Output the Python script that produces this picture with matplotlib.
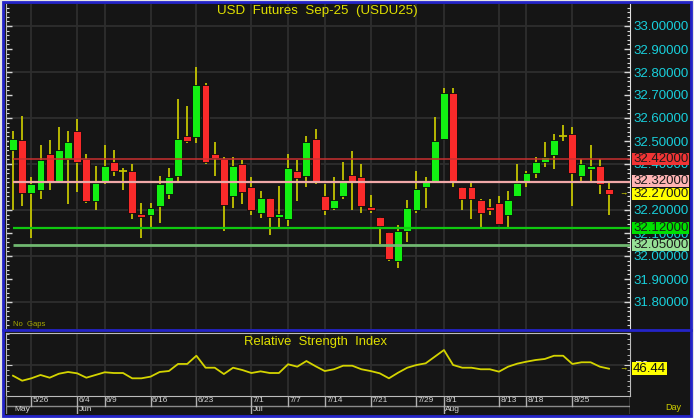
import matplotlib
matplotlib.use('Agg')
import matplotlib.pyplot as plt
from matplotlib.patches import Rectangle
from matplotlib.lines import Line2D
from matplotlib.ticker import MultipleLocator, FixedLocator
import numpy as np

plt.rcParams['font.family'] = ['Liberation Sans', 'DejaVu Sans']

# ---------------- data ----------------
opens = [32.459, 32.503, 32.273, 32.288, 32.442, 32.328, 32.422, 32.542, 32.422, 32.241,
         32.328, 32.409, 32.370, 32.370, 32.183, 32.180, 32.219, 32.271, 32.348, 32.522,
         32.519, 32.742, 32.442, 32.420, 32.259, 32.402, 32.302, 32.187, 32.251, 32.168,
         32.159, 32.370, 32.348, 32.510, 32.262, 32.207, 32.259, 32.351, 32.342, 32.210,
         32.171, 32.103, 31.980, 32.109, 32.200, 32.300, 32.328, 32.507, 32.710, 32.302,
         32.302, 32.242, 32.210, 32.229, 32.180, 32.259, 32.328, 32.359, 32.409, 32.439,
         32.520, 32.530, 32.348, 32.380, 32.391, 32.290]
highs = [32.544, 32.610, 32.342, 32.481, 32.503, 32.561, 32.544, 32.594, 32.442, 32.391,
         32.483, 32.462, 32.383, 32.402, 32.231, 32.231, 32.349, 32.383, 32.683, 32.651,
         32.822, 32.751, 32.494, 32.429, 32.429, 32.417, 32.344, 32.283, 32.251, 32.303,
         32.442, 32.419, 32.520, 32.551, 32.313, 32.342, 32.410, 32.455, 32.402, 32.264,
         32.171, 32.103, 32.135, 32.242, 32.370, 32.344, 32.603, 32.731, 32.731, 32.302,
         32.322, 32.249, 32.249, 32.262, 32.283, 32.402, 32.370, 32.430, 32.496, 32.530,
         32.570, 32.562, 32.422, 32.483, 32.422, 32.322]
lows = [32.200, 32.219, 32.080, 32.246, 32.288, 32.325, 32.228, 32.280, 32.229, 32.200,
        32.312, 32.348, 32.287, 32.159, 32.080, 32.123, 32.142, 32.248, 32.322, 32.490,
        32.493, 32.399, 32.346, 32.107, 32.209, 32.228, 32.180, 32.167, 32.093, 32.123,
        32.132, 32.239, 32.302, 32.312, 32.180, 32.199, 32.249, 32.200, 32.188, 32.188,
        32.052, 31.980, 31.949, 32.061, 32.188, 32.207, 32.320, 32.507, 32.300, 32.200,
        32.159, 32.123, 32.180, 32.141, 32.123, 32.259, 32.300, 32.339, 32.387, 32.380,
        32.499, 32.219, 32.322, 32.328, 32.270, 32.180]
closes = [32.509, 32.273, 32.313, 32.419, 32.323, 32.461, 32.494, 32.407, 32.241, 32.317,
          32.391, 32.368, 32.370, 32.188, 32.168, 32.210, 32.313, 32.342, 32.510, 32.499,
          32.742, 32.409, 32.428, 32.220, 32.390, 32.280, 32.200, 32.251, 32.168, 32.183,
          32.381, 32.341, 32.494, 32.322, 32.200, 32.242, 32.330, 32.328, 32.219, 32.200,
          32.132, 31.987, 32.109, 32.210, 32.290, 32.320, 32.501, 32.710, 32.322, 32.248,
          32.248, 32.188, 32.200, 32.141, 32.242, 32.317, 32.361, 32.409, 32.429, 32.503,
          32.520, 32.359, 32.402, 32.391, 32.312, 32.270]
rsi = [39.7, 34.9, 37.2, 40.4, 37.8, 41.6, 43.3, 42.0, 37.8, 40.4,
       43.0, 42.3, 42.3, 37.2, 37.2, 38.8, 43.3, 44.2, 51.0, 51.0,
       58.9, 47.4, 47.4, 41.3, 47.4, 45.2, 42.3, 43.9, 42.3, 42.3,
       50.7, 48.4, 53.8, 48.8, 44.2, 45.9, 49.3, 49.3, 45.9, 44.2,
       42.0, 37.2, 42.6, 47.4, 50.0, 51.6, 58.0, 64.4, 50.0, 47.4,
       47.4, 45.9, 45.9, 43.6, 48.4, 51.3, 53.2, 54.8, 55.8, 58.9,
       58.9, 51.0, 52.6, 52.6, 48.4, 46.44]

day_labels = ['5/26', '6/4', '6/9', '6/16', '6/23', '7/1', '7/7', '7/14',
              '7/21', '7/29', '8/1', '8/13', '8/18', '8/25']
day_index = [2, 7, 10, 15, 20, 26, 30, 34, 39, 44, 47, 53, 56, 61]
month_labels = ['May', 'Jun', 'Jul', 'Aug']
month_index = [0, 7, 26, 47]

price_ticks = [31.8, 31.9, 32.0, 32.1, 32.2, 32.4, 32.5, 32.6, 32.7, 32.8, 32.9, 33.0]
level_values = [32.42, 32.32, 32.27, 32.12, 32.05]
level_colors = ['#f03434', '#ffb4b4', '#ffff00', '#00e000', '#96e096']
line_levels = [32.42, 32.32, 32.12, 32.05]
line_colors = ['#c83030', '#f0a8a8', '#10c810', '#70b870']
line_widths = [1.1, 1.6, 1.6, 2.0]
rsi_last = 46.44

title = 'USD  Futures  Sep-25  (USDU25)'

# ---------------- layout ----------------
W, H = 694, 418
fig = plt.figure(figsize=(W / 100, H / 100), dpi=100, facecolor='#e4e4e4')

def fx(x):
    return x / W

def fy(y):
    return 1 - y / H

BG = '#151515'
BLUE = '#2424c8'
GRID = '#2e2e2e'
FRAME = '#bcbcbc'
WICK = '#c4c400'
YEL = '#e0e000'

fig.patches.append(Rectangle((fx(3), fy(416)), (691 - 3) / W, (416 - 2) / H,
                             transform=fig.transFigure, facecolor=BG,
                             edgecolor=BLUE, lw=2, zorder=-10))

spacing = 596 / 65.0
x0 = 13.0

def ix(xpix):
    return (xpix - x0) / spacing

def price_at(ypix):
    return 33.0 - (ypix - 26) / 230.0

XL = (ix(6), ix(630))

# ---------------- main panel ----------------
ax = fig.add_axes([fx(6), fy(329), 624 / W, (329 - 4) / H])
ax.set_facecolor('none')
ax.set_xlim(*XL)
ax.set_ylim(price_at(329), price_at(4))
for s in ['top', 'bottom']:
    ax.spines[s].set_visible(False)
ax.spines['left'].set_color(FRAME)
ax.spines['right'].set_color('#e0e0e0')

for xi in day_index:
    ax.axvline(xi, color=GRID, lw=1.3, zorder=0)
for yv in np.arange(31.8, 33.01, 0.2):
    ax.axhline(yv, color=GRID, lw=1.3, zorder=0)

n = len(closes)
xs = np.arange(n)
bw = 0.86
ax.vlines(xs, lows, highs, color=WICK, lw=1.3, zorder=2)
for i in range(n):
    o, c = opens[i], closes[i]
    if abs(c - o) < 1e-9:
        ax.hlines(o, i - bw / 2, i + bw / 2, color=WICK, lw=1.3, zorder=3)
        continue
    up = c > o
    lo, hi = min(o, c), max(o, c)
    hgt = max(hi - lo, 0.011)
    ax.add_patch(Rectangle((i - bw / 2, lo), bw, hgt,
                           facecolor='#12f012' if up else '#fa2a2a',
                           edgecolor='#0a0a0a', lw=0.6, zorder=3))

for lv, lc, lw in zip(line_levels, line_colors, line_widths):
    ax.hlines(lv, 0, XL[1], color=lc, lw=lw, zorder=4)

ax.yaxis.set_major_locator(FixedLocator(price_ticks))
ax.yaxis.set_minor_locator(MultipleLocator(0.02))
ax.yaxis.set_major_formatter(plt.FuncFormatter(lambda v, p: f'{v:.5f}'))
ax.tick_params(axis='y', which='both', left=True, right=True, direction='in',
               labelleft=False, labelright=True, colors='#d8d8d8')
ax.tick_params(axis='y', which='major', length=4.5, width=1, pad=2.5,
               labelcolor='#18d0dc', labelsize=9.5)
ax.tick_params(axis='y', which='minor', length=2.5, width=0.8)
ax.tick_params(axis='x', which='both', bottom=False, labelbottom=False)

# price level boxes
ideal = [26 + (33.0 - v) * 230 for v in level_values]
pos = list(ideal)
for k in range(len(pos) - 1, 0, -1):
    if pos[k] - pos[k - 1] < 13:
        pos[k - 1] = pos[k] - 13
for v, yp, col in zip(level_values, pos, level_colors):
    fig.patches.append(Rectangle((fx(632), fy(yp + 6)), 57 / W, 12 / H,
                                 transform=fig.transFigure, facecolor=col,
                                 edgecolor='none', zorder=5))
    fig.text(fx(633), fy(yp), f'{v:.5f}', color='#1a1a1a', fontsize=9.5,
             va='center', ha='left', zorder=6)

ylast = 26 + (33.0 - closes[-1]) * 230
fig.text(fx(619.5), fy(ylast), '→', color=YEL, fontsize=6, va='center',
         ha='left', fontweight='bold', zorder=6)

fig.text(fx(317), fy(11), title, color=YEL, fontsize=9.6, ha='center',
         va='center')
fig.text(fx(13), fy(324), 'No  Gaps', color='#a8a800', fontsize=5.5,
         ha='left', va='center')

# ---------------- RSI panel ----------------
rlo = 50 - (396 - 365) / 1.04
rhi = 50 + (365 - 333) / 1.04
ax2 = fig.add_axes([fx(6), fy(396), 624 / W, (396 - 333) / H])
ax2.set_facecolor('none')
ax2.set_xlim(*XL)
ax2.set_ylim(rlo, rhi)
for s in ax2.spines.values():
    s.set_color(FRAME)
for xi in day_index:
    ax2.axvline(xi, color=GRID, lw=1.3, zorder=0)
ax2.axhline(50, color=GRID, lw=1.3, zorder=0)
ax2.plot(xs, rsi, color='#d4d400', lw=1.3, zorder=3)
ax2.yaxis.set_major_locator(FixedLocator([50]))
ax2.yaxis.set_minor_locator(MultipleLocator(5))
ax2.yaxis.set_major_formatter(plt.FuncFormatter(lambda v, p: f'{v:.0f}'))
ax2.tick_params(axis='y', which='both', left=True, right=True, direction='in',
                labelleft=False, labelright=True, colors='#d0d0d0')
ax2.tick_params(axis='y', which='major', length=4, pad=3, labelsize=9.5,
                labelcolor='#e8e8e8')
ax2.tick_params(axis='y', which='minor', length=2.5)
ax2.tick_params(axis='x', which='both', bottom=False, labelbottom=False)
fig.text(fx(316), fy(342), 'Relative  Strength  Index', color=YEL,
         fontsize=9.4, ha='center', va='center')

yr = 396 - (rsi_last - rlo) * 1.04
fig.patches.append(Rectangle((fx(632), fy(yr + 6.5)), 35 / W, 13 / H,
                             transform=fig.transFigure, facecolor='#ffff00',
                             edgecolor='none', zorder=5))
fig.text(fx(633), fy(yr), f'{rsi_last:.2f}', color='#111111', fontsize=9.5,
         ha='left', va='center', zorder=6)
fig.text(fx(619.5), fy(yr), '→', color=YEL, fontsize=6, va='center',
         ha='left', fontweight='bold', zorder=6)

# ---------------- date strip ----------------
ax3 = fig.add_axes([fx(6), fy(414), 624 / W, (414 - 396) / H])
ax3.set_facecolor('none')
ax3.set_xlim(*XL)
ax3.set_ylim(0, 1)
ax3.axis('off')
mid = (414 - 405.5) / 18
ax3.plot([XL[0], XL[1]], [mid, mid], color='#8a8a8a', lw=1)
ax3.plot([XL[1], XL[1]], [0, 1], color=FRAME, lw=1)
ax3.plot([XL[0], XL[0]], [0, 1], color='#8a8a8a', lw=1)
for xi, lab in zip(day_index, day_labels):
    ax3.plot([xi, xi], [mid, 1], color='#b0b0b0', lw=1)
    ax3.text(xi + 0.15, (mid + 1) / 2, lab, color='#d4d4d4', fontsize=6,
             ha='left', va='center')
for xi, lab in zip(month_index, month_labels):
    if xi > 0:
        ax3.plot([xi, xi], [0, mid], color='#b0b0b0', lw=1)
    ax3.text(xi + 0.15, mid / 2, lab, color='#d4d4d4', fontsize=6,
             ha='left', va='center')

fig.text(fx(665), fy(407), 'Day', color='#d0d000', fontsize=6.5,
         ha='left', va='center')

fig.lines.append(Line2D([fx(3), fx(691)], [fy(329.5), fy(329.5)],
                        transform=fig.transFigure, color=BLUE, lw=2, zorder=10))

fig.savefig('out.png', dpi=100, facecolor=fig.get_facecolor())
